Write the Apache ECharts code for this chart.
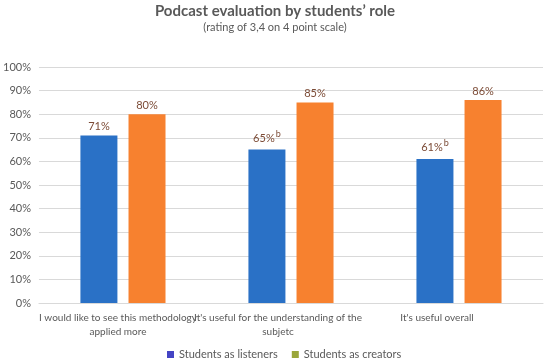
<!DOCTYPE html>
<html>
<head>
<meta charset="utf-8">
<script src="https://cdn.jsdelivr.net/npm/echarts@6/dist/echarts.min.js"></script>
<style>html,body{margin:0;padding:0;background:#fff}#c{width:550px;height:360px}</style>
</head>
<body>
<div id="c"></div>
<script>
const categories = [
  "I would like to see this methodology\napplied more",
  "It's useful for the understanding of the\nsubjetc",
  "It's useful overall"
];
const listeners = [71, 65, 61];
const creators = [80, 85, 86];
const listenerSup = ["", "b", "b"];
const creatorSup = ["", "", ""];
const yTicks = [0, 10, 20, 30, 40, 50, 60, 70, 80, 90, 100];

const chart = echarts.init(document.getElementById('c'));
const font = 'Lato';
function labelFmt(sups) {
  return function (p) {
    const s = sups[p.dataIndex];
    return '{v|' + p.value + '%}' + (s ? '{s|' + s + '}' : '');
  };
}
chart.setOption({
  animation: false,
  textStyle: { fontFamily: font },
  title: {
    text: "Podcast evaluation by students’ role",
    subtext: "(rating of 3,4 on 4 point scale)",
    left: 'center', top: -1, itemGap: 3,
    textStyle: { fontSize: 15, fontWeight: 'bold', color: '#595959', fontFamily: font },
    subtextStyle: { fontSize: 11, color: '#595959', fontFamily: font }
  },
  legend: {
    top: 344, left: 162, itemWidth: 7, itemHeight: 7, itemGap: 14,
    textStyle: { fontSize: 11, color: '#595959', fontFamily: font },
    data: [
      { name: 'Students as listeners', icon: 'rect', itemStyle: { color: '#4444c4' } },
      { name: 'Students as creators', icon: 'rect', itemStyle: { color: '#9aa63a' } }
    ]
  },
  grid: { left: 35, right: 7, top: 67, bottom: 57 },
  xAxis: {
    type: 'category', data: categories,
    axisTick: { show: false },
    axisLine: { lineStyle: { color: '#d9d9d9' } },
    axisLabel: {
      color: '#595959', fontSize: 10, interval: 0, lineHeight: 14, margin: 8, fontFamily: font,
      formatter: (v, i) => v.split('\n').map(l => '{c' + i + '|' + l + '}').join('\n'),
      rich: {
        c0: { fontSize: 10, color: '#595959', fontFamily: font, lineHeight: 14, padding: [0, 10, 0, 0] },
        c1: { fontSize: 10, color: '#595959', fontFamily: font, lineHeight: 14, padding: [0, 26, 0, 0] },
        c2: { fontSize: 10, color: '#595959', fontFamily: font, lineHeight: 14, padding: [0, 44, 0, 0] }
      }
    }
  },
  yAxis: {
    type: 'value', min: 0, max: 100, interval: 10,
    axisLabel: { color: '#595959', fontSize: 11, fontFamily: font,
      formatter: v => yTicks.includes(v) ? v + '%' : '' },
    splitLine: { lineStyle: { color: '#d9d9d9' } },
    axisLine: { show: false }, axisTick: { show: false }
  },
  series: [
    {
      name: 'Students as listeners', type: 'bar', data: listeners,
      barWidth: 37, barGap: '30%',
      itemStyle: { color: '#2a71c6' },
      label: { show: true, position: 'top', distance: 3, formatter: labelFmt(listenerSup),
        rich: {
          v: { fontSize: 11, color: '#7b4a35', fontFamily: font },
          s: { fontSize: 9, color: '#7b4a35', verticalAlign: 'bottom', padding: [0, 0, 8, 1], fontFamily: font }
        } }
    },
    {
      name: 'Students as creators', type: 'bar', data: creators,
      barWidth: 37,
      itemStyle: { color: '#f7812f' },
      label: { show: true, position: 'top', distance: 3, formatter: labelFmt(creatorSup),
        rich: {
          v: { fontSize: 11, color: '#7b4a35', fontFamily: font },
          s: { fontSize: 9, color: '#7b4a35', fontFamily: font }
        } }
    }
  ]
});
</script>
</body>
</html>
